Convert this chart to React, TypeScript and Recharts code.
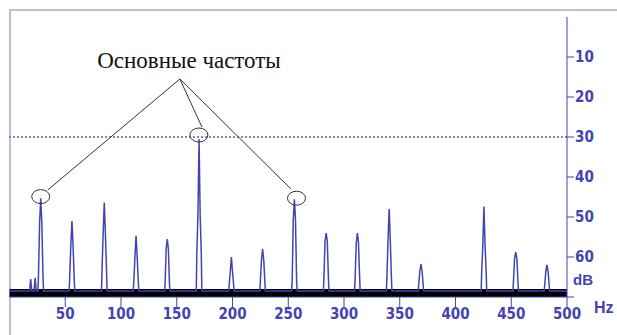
import { LineChart, Line, XAxis, YAxis, ReferenceLine, ReferenceArea, ReferenceDot } from "recharts";

// spectrum: [Hz, attenuation in dB]
const spectrum: [number, number][] = [
    [0, 68.5], [18, 68.5], [19, 65.5], [20, 68.5], [22, 68.5], [23, 65.2], [24, 68.5],
    [25.5, 68.5], [26, 64.5], [27, 51.5], [28, 45.3], [29, 51.5], [30, 64.5], [30.5, 68.5],
    [53.5, 68.5], [54, 65], [55, 57], [56, 51], [57, 57], [58, 65], [58.5, 68.5],
    [82.5, 68.5], [83, 63], [84, 54], [85, 46.4], [86, 54], [87, 63], [87.5, 68.5],
    [111, 68.5], [111.5, 66], [112.5, 60], [113.5, 54.7], [114.5, 60], [115.5, 66], [116, 68.5],
    [139, 68.5], [139.5, 67], [140.5, 58], [141.5, 55.5], [142.5, 58], [143.5, 67], [144, 68.5],
    [167.5, 68.5], [168, 59], [169, 49.5], [170, 30.5], [171, 49.5], [172, 59], [172.5, 68.5],
    [196.5, 68.5], [197, 67], [198, 63.7], [199, 60], [200, 63.7], [201, 67], [201.5, 68.5],
    [224.5, 68.5], [225, 66], [226, 60.7], [227, 58], [228, 60.7], [229, 66], [229.5, 68.5],
    [253, 68.5], [253.5, 66], [254.5, 50.7], [255.5, 45.6], [256.5, 50.7], [257.5, 66], [258, 68.5],
    [281.5, 68.5], [282, 65], [283, 56], [284, 54], [285, 56], [286, 65], [286.5, 68.5],
    [309.5, 68.5], [310, 65], [311, 56.5], [312, 54], [313, 56.5], [314, 65], [314.5, 68.5],
    [338, 68.5], [338.5, 65], [339.5, 55.7], [340.5, 48], [341.5, 55.7], [342.5, 65], [343, 68.5],
    [366.5, 68.5], [367, 67], [368, 63.5], [369, 61.8], [370, 63.5], [371, 67], [371.5, 68.5],
    [423, 68.5], [423.5, 63.7], [424.5, 57], [425.5, 47.4], [426.5, 57], [427.5, 63.7], [428, 68.5],
    [451.5, 68.5], [452, 66], [453, 60.3], [454, 58.8], [455, 60.3], [456, 66], [456.5, 68.5],
    [479.5, 68.5], [480, 67], [481, 63.5], [482, 62], [483, 63.5], [484, 67], [484.5, 68.5],
    [500, 68.5],
];

const hzTicks = [50, 100, 150, 200, 250, 300, 350, 400, 450, 500];
const dbTicks = [10, 20, 30, 40, 50, 60, 70];
const refLevel = 30;

// "Основные частоты" pointer: apex and the three marked peaks
const apex = { hz: 152.8, db: 15.5 };
const marked = [
    { hz: 28, db: 44.9, endHz: 34.5, endDb: 43.2 },
    { hz: 169.9, db: 29.5, endHz: 172.6, endDb: 27.5 },
    { hz: 257.4, db: 45.3, endHz: 252.4, endDb: 43 },
];

const data = spectrum.map(([hz, db]) => ({ hz, db }));

const BLUE = "#4343b4";
const tickFont = { fill: BLUE, fontSize: 15, fontFamily: "'Liberation Sans Narrow', 'DejaVu Sans Condensed', Arial, sans-serif", fontWeight: 600 };

const Ellipse = (props: any) => (
    <ellipse cx={props.cx} cy={props.cy} rx={9} ry={7} fill="none" stroke="#333" strokeWidth={1} />
);

export default function App() {
    return (
        <div style={{ position: "absolute", left: 0, top: 0, width: 617, height: 335, overflow: "hidden", background: "#fff" }}>
            <div style={{ position: "absolute", left: 9, top: 9, width: 700, height: 400, border: "2px solid #b6c3da" }} />
            <div style={{ position: "absolute", left: 0, top: 0 }}>
                <LineChart width={617} height={335} data={data} margin={{ top: 17, right: 0, left: 9.5, bottom: 0 }}>
                    <XAxis
                        dataKey="hz"
                        type="number"
                        domain={[0, 500]}
                        ticks={hzTicks}
                        height={38}
                        tickSize={10}
                        tickMargin={1}
                        stroke={BLUE}
                        tick={tickFont}
                        allowDataOverflow
                    />
                    <YAxis
                        orientation="right"
                        type="number"
                        reversed
                        domain={[0, 70]}
                        ticks={dbTicks}
                        width={50}
                        tickSize={7}
                        tickMargin={1}
                        stroke={BLUE}
                        tick={tickFont}
                        tickFormatter={(v: number) => (v === 70 ? "" : String(v))}
                    />
                    <ReferenceLine y={refLevel} stroke="#5a5ac8" strokeWidth={1.5} strokeDasharray="2 2" />
                    <Line type="linear" dataKey="db" stroke={BLUE} strokeWidth={1.5} dot={false} isAnimationActive={false} />
                    <ReferenceArea x1={0} x2={500} y1={68} y2={70} fill="#000" fillOpacity={1} stroke="none" />
                    {marked.map((m, i) => (
                        <ReferenceLine
                            key={"l" + i}
                            segment={[{ x: apex.hz, y: apex.db }, { x: m.endHz, y: m.endDb }]}
                            stroke="#333"
                            strokeWidth={1}
                        />
                    ))}
                    {marked.map((m, i) => (
                        <ReferenceDot key={"d" + i} x={m.hz} y={m.db} r={8} shape={Ellipse} />
                    ))}
                </LineChart>
            </div>
            <div style={{ position: "absolute", left: 70, width: 238, top: 48, textAlign: "center", fontFamily: "'Liberation Serif', serif", fontSize: 23, color: "#111" }}>
                Основные частоты
            </div>
            <div style={{ position: "absolute", left: 573, top: 271, fontFamily: "Arial, sans-serif", fontWeight: 700, fontSize: 15, color: BLUE }}>dB</div>
            <div style={{ position: "absolute", left: 594, top: 299, fontFamily: "'Liberation Sans', Arial, sans-serif", fontWeight: 700, fontSize: 16, color: BLUE, whiteSpace: "nowrap" }}>Hz</div>
        </div>
    );
}
